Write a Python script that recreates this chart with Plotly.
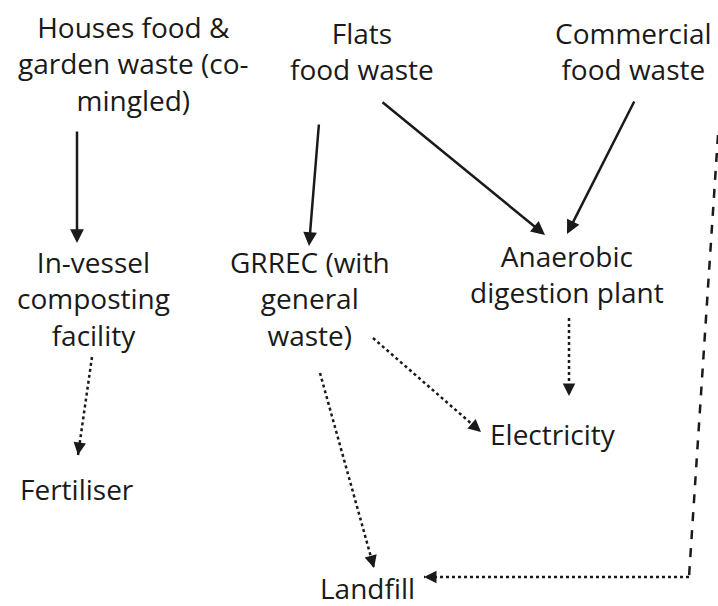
import plotly.graph_objects as go

# Node labels and their (x, y) centres in diagram units (y grows downward)
node_labels = [
    "Houses food &<br>garden waste (co-<br>mingled)",
    "Flats<br>food waste",
    "Commercial<br>food waste",
    "In-vessel<br>composting<br>facility",
    "GRREC (with<br>general<br>waste)",
    "Anaerobic<br>digestion plant",
    "Fertiliser",
    "Electricity",
    "Landfill",
]
node_x = [133, 362, 633, 93, 310, 567, 77, 553, 367]
node_y = [63, 51, 51, 298, 298, 274, 489, 434, 588]

# Solid arrows: tail -> head
solid_from = [(77, 130), (319, 123), (381, 101), (635, 100)]
solid_to = [(77, 243), (309, 246), (545, 235), (567, 234)]

# Dotted arrows: tail -> head
dot_from = [(92, 357), (320, 373), (373, 338), (569, 318)]
dot_to = [(78, 455), (374, 568), (481, 432), (569, 396)]

# Dashed path from right edge down to landfill
dash_path_x = [718, 689]
dash_path_y = [135, 577]
landfill_dot_from = (689, 577)
landfill_dot_to = (424, 577)

INK = "#1a1a1a"
FONT = "Open Sans"

fig = go.Figure()

for (x0, y0), (x1, y1) in zip(dot_from, dot_to):
    fig.add_trace(go.Scatter(x=[x0, x1], y=[y0, y1], mode="lines",
                             line=dict(color=INK, width=2.5, dash="dot"),
                             hoverinfo="skip", showlegend=False))

fig.add_trace(go.Scatter(x=dash_path_x, y=dash_path_y, mode="lines",
                         line=dict(color=INK, width=2.5, dash="dash"),
                         hoverinfo="skip", showlegend=False))
fig.add_trace(go.Scatter(x=[landfill_dot_from[0], landfill_dot_to[0]],
                         y=[landfill_dot_from[1], landfill_dot_to[1]], mode="lines",
                         line=dict(color=INK, width=2.5, dash="dot"),
                         hoverinfo="skip", showlegend=False))

annotations = []
for txt, x, y in zip(node_labels, node_x, node_y):
    annotations.append(dict(x=x, y=y, xref="x", yref="y", text=txt, showarrow=False,
                            font=dict(family=FONT, size=28, color=INK),
                            align="center", xanchor="center", yanchor="middle"))

for (x0, y0), (x1, y1) in zip(solid_from, solid_to):
    annotations.append(dict(x=x1, y=y1, ax=x0, ay=y0, xref="x", yref="y",
                            axref="x", ayref="y", text="", showarrow=True,
                            arrowhead=2, arrowsize=1.1, arrowwidth=2.5, arrowcolor=INK))

def head_only(x0, y0, x1, y1):
    dx, dy = x1 - x0, y1 - y0
    n = (dx * dx + dy * dy) ** 0.5
    return dict(x=x1, y=y1, ax=-dx / n * 12, ay=-dy / n * 12, xref="x", yref="y",
                text="", showarrow=True, arrowhead=2, arrowsize=1.0,
                arrowwidth=2.5, arrowcolor=INK)

for (x0, y0), (x1, y1) in zip(dot_from, dot_to):
    annotations.append(head_only(x0, y0, x1, y1))
annotations.append(head_only(*landfill_dot_from, *landfill_dot_to))

fig.update_layout(
    width=718, height=606,
    margin=dict(l=0, r=0, t=0, b=0),
    paper_bgcolor="white", plot_bgcolor="white",
    xaxis=dict(range=[0, 718], visible=False, fixedrange=True),
    yaxis=dict(range=[606, 0], visible=False, fixedrange=True),
    annotations=annotations,
    showlegend=False,
)

fig.write_html(
    "out.html",
    config={"displayModeBar": False},
    post_script="document.body.style.margin='0';document.body.style.overflow='hidden';",
)
